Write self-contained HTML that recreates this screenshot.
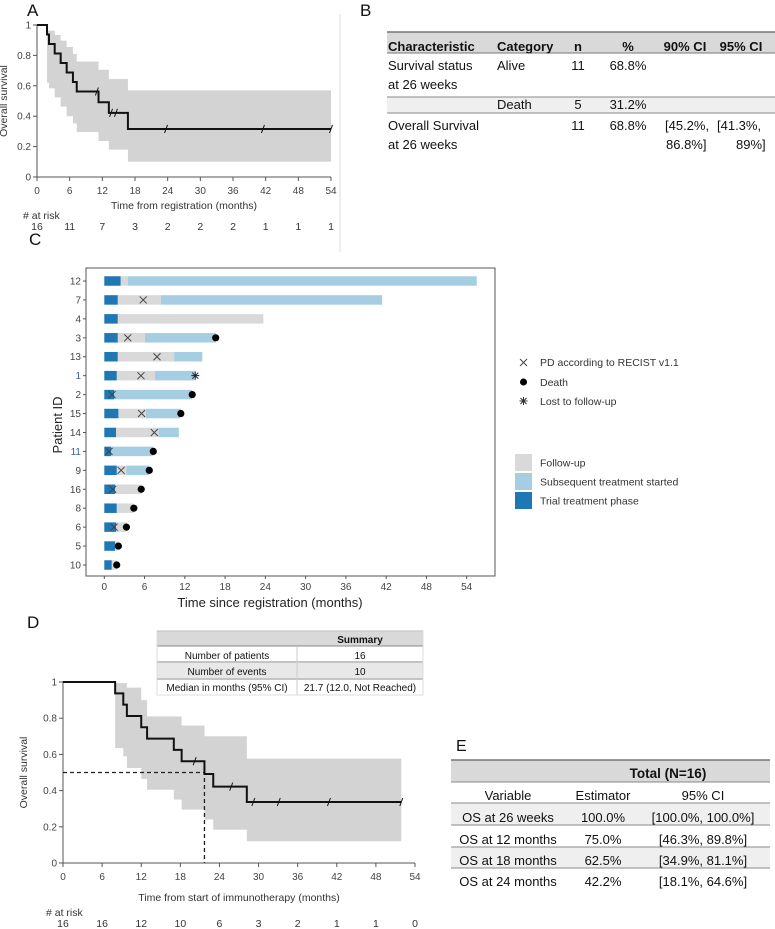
<!DOCTYPE html>
<html><head><meta charset="utf-8"><style>
body{margin:0;background:#fff;width:775px;height:929px;overflow:hidden}
svg{display:block;font-family:"Liberation Sans",sans-serif}
</style></head><body>
<svg id="fig" width="775" height="929" viewBox="0 0 775 929" xmlns="http://www.w3.org/2000/svg">
<g id="gA"></g>
<g id="gB"></g>
<g id="gC"></g>
<g id="gD"></g>
<g id="gE"></g>
</svg>
<script>
// ---- Panel A data ----
const aStepT=[0,1.84,2.2,3.25,4.35,5.45,6.6,7.3,11.3,13.2,16.7];
const aStepS=[1,0.9375,0.875,0.8125,0.75,0.6875,0.625,0.5625,0.492,0.422,0.316];
const aEnd=54;
const aBandT=[1.84,2.2,3.25,4.35,5.45,6.6,7.3,11.3,13.2,16.7];
const aUpper=[0.963,0.963,0.934,0.897,0.855,0.81,0.76,0.706,0.645,0.57];
const aLower=[0.62,0.583,0.524,0.463,0.40,0.353,0.296,0.237,0.18,0.10];
const aCensor=[11,13.6,14.5,23.7,41.5,54];
const aRisk=[16,11,7,3,2,2,2,1,1,1];
// ---- Panel D data ----
const dStepT=[0,8,9.25,9.8,12,12.9,17,18.2,21.7,23.05,28.2];
const dStepS=[1,0.9375,0.875,0.8125,0.75,0.6875,0.625,0.5625,0.492,0.422,0.337];
const dEnd=51.9;
const dBandT=[8,9.25,9.8,12,12.9,17,18.2,21.7,23.05,28.2];
const dUpper=[0.994,0.994,0.969,0.90,0.81,0.81,0.76,0.70,0.70,0.577];
const dLower=[0.635,0.59,0.525,0.464,0.405,0.35,0.295,0.24,0.184,0.12];
const dCensor=[20.2,25.8,29.2,33.1,40.8,51.9];
const dRisk=[16,16,12,10,6,3,2,1,1,0];
const dMedian=21.7;
// ---- shared ticks ----
const xTicks=[0,6,12,18,24,30,36,42,48,54];
const yTicks=[0,0.2,0.4,0.6,0.8,1];
const yTickLabels=["0","0.2","0.4","0.6","0.8","1"];
// ---- Panel C data ----
const cIds=[12,7,4,3,13,1,2,15,14,11,9,16,8,6,5,10];
const cTrialEnd=[2.43,2.0,2.0,2.0,2.0,1.85,1.45,2.1,1.75,1.0,1.85,1.6,1.85,1.75,1.6,1.1];
const cFollowEnd=[3.48,8.4,23.7,6.06,10.4,7.55,1.45,6.2,8.05,1.0,3.3,5.5,4.4,3.3,2.1,1.85];
const cSubEnd=[55.5,41.4,23.7,16.6,14.6,13.56,13.06,11.4,11.1,7.3,6.7,5.5,4.4,3.3,2.1,1.85];
const cPD=[null,5.8,null,3.5,7.85,5.46,1.15,5.56,7.45,0.7,2.5,1.25,null,1.45,null,null];
const cDeath=[null,null,null,16.6,null,null,13.1,11.4,null,7.3,6.7,5.5,4.4,3.3,2.1,1.85];
const cLost=[null,null,null,null,null,13.56,null,null,null,null,null,null,null,null,null,null];

const NS="http://www.w3.org/2000/svg";
function mk(parent,tag,attrs,text){const e=document.createElementNS(NS,tag);for(const k in attrs)e.setAttribute(k,attrs[k]);if(text!==undefined)e.textContent=text;parent.appendChild(e);return e;}

function km(g,o){
  const X=v=>o.x0+(v/54)*(o.x1-o.x0);
  const Y=v=>o.y0-v*(o.y0-o.y1);
  let top="",bot=[];
  for(let i=0;i<o.bandT.length;i++){
    const xa=X(o.bandT[i]),xb=X(i+1<o.bandT.length?o.bandT[i+1]:o.end);
    top+=(i?"L":"M")+xa+","+Y(o.upper[i])+"L"+xb+","+Y(o.upper[i]);
    bot.unshift("L"+xb+","+Y(o.lower[i])+"L"+xa+","+Y(o.lower[i]));
  }
  const band=mk(g,"path",{d:top+bot.join("")+"Z",fill:"#d3d3d3",stroke:"none"});
  
  
  const ax=mk(g,"path",{d:`M${o.x0},${Y(1)}L${o.x0},${o.y0}L${X(54)},${o.y0}`,stroke:"#555",fill:"none","stroke-width":1});
  
  
  xTicks.forEach((t,i)=>{
    mk(g,"line",{x1:X(t),x2:X(t),y1:o.y0,y2:o.y0+4,stroke:"#555"});
    const l=mk(g,"text",{x:X(t),y:o.y0+17,"text-anchor":"middle","font-size":10,fill:"#444"},t);
    
    
    const r=mk(g,"text",{x:X(t),y:o.riskY,"text-anchor":"middle","font-size":10.5,fill:"#333"},o.risk[i]);
    
    
  });
  yTicks.forEach((t,i)=>{
    mk(g,"line",{x1:o.x0-4,x2:o.x0,y1:Y(t),y2:Y(t),stroke:"#555"});
    const l=mk(g,"text",{x:o.x0-6,y:Y(t)+3.5,"text-anchor":"end","font-size":10,fill:"#444"},yTickLabels[i]);
    
    
  });
  if(o.median!==undefined){
    const m=mk(g,"path",{d:`M${o.x0},${Y(0.5)}L${X(o.median)},${Y(0.5)}L${X(o.median)},${o.y0}`,stroke:"#222",fill:"none","stroke-width":1.3,"stroke-dasharray":"4,3"});
    
    
  }
  let d="";
  for(let i=0;i<o.t.length;i++){
    const xa=X(o.t[i]),xb=X(i+1<o.t.length?o.t[i+1]:o.end);
    d+=(i?"L":"M")+xa+","+Y(o.s[i])+"L"+xb+","+Y(o.s[i]);
  }
  const p=mk(g,"path",{d:d,stroke:"#111",fill:"none","stroke-width":2});
  
  
  const sAt=t=>{let v=o.s[0];for(let i=0;i<o.t.length;i++)if(o.t[i]<=t)v=o.s[i];return v;};
  o.censor.forEach(c=>{
    const cm=mk(g,"line",{x1:X(c)-1.5,x2:X(c)+1.5,y1:Y(sAt(c))+4,y2:Y(sAt(c))-4,stroke:"#111","stroke-width":1});
    
    
  });
  const xt=mk(g,"text",{x:(o.x0+X(54))/2,y:o.xTitleY,"text-anchor":"middle","font-size":10.5,fill:"#333"},o.xTitle);
  
  
  const yt=mk(g,"text",{x:0,y:0,"text-anchor":"middle","font-size":10.5,fill:"#333",transform:`translate(${o.yTitleX},${(o.y0+Y(1))/2}) rotate(-90)`},"Overall survival");
  
  
  const ar=mk(g,"text",{x:o.riskLabelX,y:o.riskY-11,"font-size":10.5,fill:"#333"},"# at risk");
  
  
}

const gA=document.getElementById("gA");
const la=mk(gA,"text",{x:27,y:16,"font-size":17,fill:"#111"},"A");


km(gA,{x0:37,x1:331,y0:177,y1:25,t:aStepT,s:aStepS,end:aEnd,bandT:aBandT,upper:aUpper,lower:aLower,censor:aCensor,risk:aRisk,riskY:230,riskLabelX:23,xTitle:"Time from registration (months)",xTitleY:209,yTitleX:7});
mk(gA,"line",{x1:340,x2:340,y1:14,y2:252,stroke:"#ddd"});

const gD=document.getElementById("gD");
const ld=mk(gD,"text",{x:27,y:628,"font-size":17,fill:"#111"},"D");


km(gD,{x0:63,x1:415,y0:863,y1:682,t:dStepT,s:dStepS,end:dEnd,bandT:dBandT,upper:dUpper,lower:dLower,censor:dCensor,risk:dRisk,riskY:927,riskLabelX:46,xTitle:"Time from start of immunotherapy (months)",xTitleY:901,yTitleX:27,median:dMedian});

// ---- Panel C ----
const gC=document.getElementById("gC");
const lc=mk(gC,"text",{x:29,y:245,"font-size":17,fill:"#111"},"C");


const CX=v=>104.3+v*(466.7-104.3)/54;
const CY=i=>281+i*(565-281)/15;
const fr=mk(gC,"rect",{x:86,y:268,width:409,height:308,fill:"none",stroke:"#555"});


xTicks.forEach(t=>{
  mk(gC,"line",{x1:CX(t),x2:CX(t),y1:576,y2:579,stroke:"#555"});
  const l=mk(gC,"text",{x:CX(t),y:590,"text-anchor":"middle","font-size":10,fill:"#444"},t);
  
  
});
const bh=9.5;
cIds.forEach((id,i)=>{
  const y=CY(i);
  mk(gC,"line",{x1:83,x2:86,y1:y,y2:y,stroke:"#555"});
  const l=mk(gC,"text",{x:81,y:y+3.5,"text-anchor":"end","font-size":10,fill:(id===1||id===11)?"#3a5f9a":"#444"},id);
  
  
  if(cSubEnd[i]>cFollowEnd[i]){
    const s=mk(gC,"rect",{x:CX(cFollowEnd[i]),y:y-bh/2,width:CX(cSubEnd[i])-CX(cFollowEnd[i]),height:bh,fill:"#a6cee3"});
    
    
  }
  if(cFollowEnd[i]>cTrialEnd[i]){
    const f=mk(gC,"rect",{x:CX(cTrialEnd[i]),y:y-bh/2,width:CX(cFollowEnd[i])-CX(cTrialEnd[i]),height:bh,fill:"#d9d9d9"});
    
    
  }
  const tr=mk(gC,"rect",{x:CX(0),y:y-bh/2,width:CX(cTrialEnd[i])-CX(0),height:bh,fill:"#1f77b4"});
  
  
  if(cPD[i]!==null){
    const x=CX(cPD[i]);
    const m=mk(gC,"path",{d:`M${x-3.5},${y-3.5}L${x+3.5},${y+3.5}M${x-3.5},${y+3.5}L${x+3.5},${y-3.5}`,stroke:"#444","stroke-width":1});
    
    
  }
  if(cDeath[i]!==null){
    const m=mk(gC,"circle",{cx:CX(cDeath[i]),cy:y,r:3.6,fill:"#000"});
    
    
  }
  if(cLost[i]!==null){
    const x=CX(cLost[i]);
    const m=mk(gC,"path",{d:`M${x-4},${y}L${x+4},${y}M${x},${y-4}L${x},${y+4}M${x-3},${y-3}L${x+3},${y+3}M${x-3},${y+3}L${x+3},${y-3}`,stroke:"#222","stroke-width":1});
    
    
  }
});
const cxt=mk(gC,"text",{x:270,y:607,"text-anchor":"middle","font-size":13,fill:"#222"},"Time since registration (months)");


const cyt=mk(gC,"text",{x:0,y:0,"text-anchor":"middle","font-size":13,fill:"#222",transform:"translate(62,425) rotate(-90)"},"Patient ID");


const lg=mk(gC,"g",{});


mk(lg,"path",{d:"M520,359L527,366M520,366L527,359",stroke:"#444"});
mk(lg,"circle",{cx:523.5,cy:382,r:3.5,fill:"#000"});
mk(lg,"path",{d:"M519.5,401L527.5,401M523.5,397L523.5,405M520.5,398L526.5,404M520.5,404L526.5,398",stroke:"#333"});
[["PD according to RECIST v1.1",366],["Death",386],["Lost to follow-up",405]].forEach(a=>{
  const t=mk(lg,"text",{x:540,y:a[1],"font-size":10.5,fill:"#333"},a[0]);
  
  
});
[["#d9d9d9","Follow-up",454],["#a6cee3","Subsequent treatment started",473],["#1f77b4","Trial treatment phase",492]].forEach(a=>{
  mk(lg,"rect",{x:515,y:a[2],width:17,height:17,fill:a[0]});
  const t=mk(lg,"text",{x:540,y:a[2]+12.5,"font-size":10.5,fill:"#333"},a[1]);
  
  
});

// ---- Panel B table ----
const gB=document.getElementById("gB");
const lb=mk(gB,"text",{x:360,y:16,"font-size":17,fill:"#111"},"B");


mk(gB,"rect",{x:387,y:32,width:388,height:21,fill:"#d9d9d9"});
mk(gB,"rect",{x:387,y:97,width:388,height:16,fill:"#efefef"});
[[32,1.6,"#777"],[53,1,"#777"],[97,1,"#888"],[113,1,"#888"]].forEach(l=>mk(gB,"line",{x1:387,x2:775,y1:l[0],y2:l[0],stroke:l[2],"stroke-width":l[1]}));
function tx(g,x,y,s,anchor,bold,size,name){const t=mk(g,"text",{x:x,y:y,"text-anchor":anchor||"start","font-size":size||13,"font-weight":bold?"bold":"normal",fill:"#111"},s);return t;}
tx(gB,388,51,"Characteristic","start",1,13,"column-header");
tx(gB,497,51,"Category","start",1,13,"column-header");
tx(gB,578,51,"n","middle",1,13,"column-header");
tx(gB,628,51,"%","middle",1,13,"column-header");
tx(gB,685,51,"90% CI","middle",1,13,"column-header");
tx(gB,741,51,"95% CI","middle",1,13,"column-header");
tx(gB,388,70,"Survival status");tx(gB,388,89,"at 26 weeks");
tx(gB,497,70,"Alive");tx(gB,578,70,"11","middle");tx(gB,628,70,"68.8%","middle");
tx(gB,497,109,"Death");tx(gB,578,109,"5","middle");tx(gB,628,109,"31.2%","middle");
tx(gB,388,130,"Overall Survival");tx(gB,388,149,"at 26 weeks");
tx(gB,578,130,"11","middle");tx(gB,628,130,"68.8%","middle");
tx(gB,665,130,"[45.2%,");tx(gB,666,149,"86.8%]");
tx(gB,717,130,"[41.3%,");tx(gB,736,149,"89%]");

// ---- Panel D summary table ----
const st=mk(gD,"g",{});


mk(st,"rect",{x:157,y:631,width:266,height:15,fill:"#d9d9d9"});
mk(st,"rect",{x:157,y:647,width:266,height:48,fill:"#fff"});
mk(st,"rect",{x:157,y:663,width:266,height:15,fill:"#e8e8e8"});
mk(st,"line",{x1:157,x2:423,y1:631,y2:631,stroke:"#777","stroke-width":1.3});
[646,662,679].forEach(y=>mk(st,"line",{x1:157,x2:423,y1:y,y2:y,stroke:"#888"}));
mk(st,"line",{x1:297,x2:297,y1:647,y2:695,stroke:"#ccc"});
mk(st,"rect",{x:157,y:631,width:266,height:64,fill:"none",stroke:"#ddd"});
tx(st,360,643,"Summary","middle",1,10,"column-header");
tx(st,227,659,"Number of patients","middle",0,10);tx(st,360,659,"16","middle",0,10);
tx(st,227,675,"Number of events","middle",0,10);tx(st,360,675,"10","middle",0,10);
tx(st,227,691,"Median in months (95% CI)","middle",0,10);tx(st,360,691,"21.7 (12.0, Not Reached)","middle",0,10);

// ---- Panel E table ----
const gE=document.getElementById("gE");
const le=mk(gE,"text",{x:456,y:751,"font-size":16,fill:"#111"},"E");


mk(gE,"rect",{x:451,y:760,width:319,height:22,fill:"#d9d9d9"});
mk(gE,"rect",{x:451,y:803,width:319,height:22,fill:"#efefef"});
mk(gE,"rect",{x:451,y:847,width:319,height:21,fill:"#efefef"});
mk(gE,"line",{x1:451,x2:770,y1:760,y2:760,stroke:"#777","stroke-width":1.5});
[782,803,825,847,868].forEach(y=>mk(gE,"line",{x1:451,x2:770,y1:y,y2:y,stroke:"#888"}));
tx(gE,668,778,"Total (N=16)","middle",1,13.5,"column-header");
tx(gE,508,800,"Variable","middle",0,13,"column-header");
tx(gE,603,800,"Estimator","middle",0,13,"column-header");
tx(gE,703,800,"95% CI","middle",0,13,"column-header");
[["OS at 26 weeks","100.0%","[100.0%, 100.0%]",822],["OS at 12 months","75.0%","[46.3%, 89.8%]",844],["OS at 18 months","62.5%","[34.9%, 81.1%]",865],["OS at 24 months","42.2%","[18.1%, 64.6%]",886]].forEach(r=>{
  tx(gE,508,r[3],r[0],"middle");tx(gE,603,r[3],r[1],"middle");tx(gE,703,r[3],r[2],"middle");
});
</script>
</body></html>
